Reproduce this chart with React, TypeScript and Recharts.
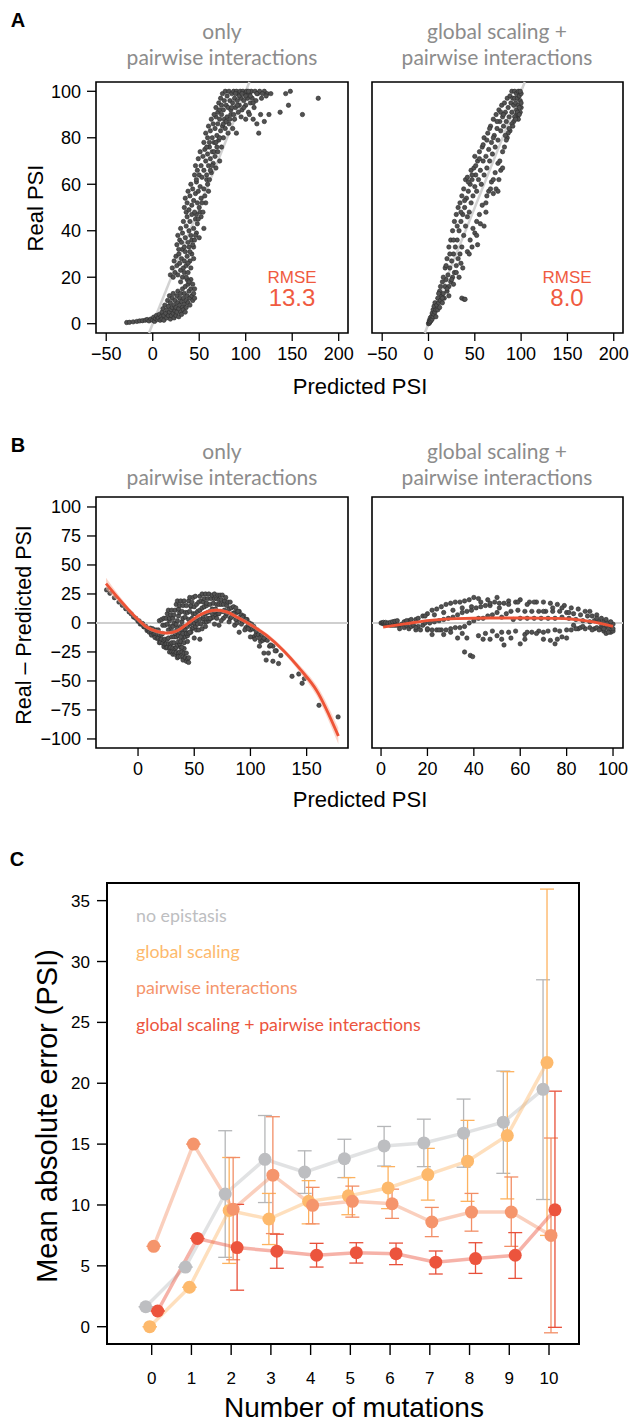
import React from 'react';
import { ComposedChart, Scatter, Line, Area, ErrorBar, XAxis, YAxis, ReferenceLine, ReferenceArea } from 'recharts';

// panels A/B: [predicted PSI, real PSI]
const onlyPairwisePoints: [number, number][] = [
  [-28, 0.5], [-25, 0.6], [-21, 0.8], [-17, 1], [-14, 1.2], [-11, 1.3], [-8, 1.5], [-6, 1.8], [-4, 1.2], [-2, 2], [0, 1.5], [1, 2.8],
  [2, 1], [3, 2.2], [4, 3.5], [5, 1.8], [6, 2.5], [7, 4], [8, 1.5], [9, 3], [10, 5], [10, 2], [11, 6.5], [12, 3.5], [12, 1.5], [13, 8],
  [14, 4.5], [15, 2.5], [15, 6], [16, 10], [17, 3.5], [17, 7.5], [18, 5], [18, 12], [19, 2], [19, 9], [20, 6], [20, 3.5], [21, 11], [21, 7],
  [22, 4.5], [22, 13], [23, 8], [23, 2.5], [24, 5.5], [24, 10], [25, 7], [25, 3.5], [26, 12], [26, 5], [27, 9], [27, 14], [28, 6.5], [28, 3],
  [29, 11], [29, 8], [30, 5], [30, 13], [31, 9.5], [31, 4], [32, 7], [32, 15], [33, 11], [33, 6], [34, 8.5], [34, 13], [35, 5], [35, 16],
  [36, 10], [36, 7], [37, 12], [38, 9], [38, 17], [39, 14], [40, 11], [40, 8], [41, 15], [41, 19], [42, 12], [43, 10], [43, 17], [44, 13],
  [45, 11], [45, 15], [37, 19], [39, 18], [30, 18], [32, 20], [34, 22], [36, 20],
  [19, 21], [21, 24], [22, 20], [23, 27], [24, 22], [25, 29], [26, 25], [27, 21], [28, 30], [29, 26], [30, 23], [31, 28], [32, 32], [33, 24],
  [34, 27], [35, 31], [36, 25], [37, 29], [38, 22], [39, 33], [40, 27], [41, 24], [42, 30], [44, 28], [38, 26], [40, 31], [42, 36], [44, 33],
  [26, 34], [27, 38], [28, 32], [29, 36], [30, 41], [31, 35], [32, 39], [33, 44], [34, 33], [35, 37], [36, 42], [37, 46], [38, 35], [39, 40],
  [40, 44], [41, 38], [42, 47], [43, 34], [44, 41], [45, 36], [46, 45], [47, 39], [48, 43], [50, 37], [52, 46], [55, 41], [46, 38], [47, 47],
  [49, 45], [51, 48],
  [34, 50], [35, 54], [36, 48], [37, 52], [38, 57], [39, 49], [40, 55], [41, 60], [42, 51], [43, 58], [44, 53], [45, 48], [46, 56], [47, 61],
  [48, 52], [49, 57], [50, 50], [51, 59], [52, 54], [54, 48], [55, 58], [57, 52], [59, 60], [60, 57], [53, 52], [56, 55], [58, 62], [61, 62],
  [45, 64], [46, 68], [47, 62], [48, 66], [49, 71], [50, 64], [51, 74], [52, 68], [53, 63], [54, 72], [55, 66], [56, 75], [57, 70], [58, 64],
  [59, 73], [60, 68], [61, 76], [62, 71], [63, 65], [64, 74], [65, 69], [67, 72], [69, 76], [68, 67], [72, 70], [62, 66], [64, 68], [66, 74],
  [55, 78], [57, 82], [58, 76], [59, 80], [60, 85], [61, 78], [62, 83], [63, 88], [64, 80], [65, 86], [66, 78], [67, 84], [68, 89], [69, 81],
  [70, 86], [71, 79], [72, 88], [73, 83], [74, 90], [75, 85], [76, 80], [77, 88], [78, 84], [80, 89], [81, 82], [82, 86], [84, 90], [86, 84],
  [88, 88], [90, 82], [68, 78], [70, 74], [72, 80], [74, 76], [76, 86], [79, 87], [83, 88],
  [66, 90], [68, 93], [70, 91], [71, 95], [72, 92], [73, 97], [74, 94], [75, 99], [76, 92], [77, 96], [78, 100], [79, 94], [80, 98], [81, 93],
  [82, 100], [83, 96], [84, 92], [85, 99], [86, 95], [87, 100], [88, 97], [89, 93], [90, 100], [91, 96], [92, 99], [93, 94], [94, 100],
  [95, 97], [96, 92], [97, 100], [98, 96], [99, 99], [100, 94], [101, 100], [102, 97], [103, 91], [104, 99], [105, 95], [106, 100], [107, 97],
  [109, 93], [110, 100], [111, 96], [113, 99], [115, 100], [117, 97], [120, 100], [123, 99], [127, 99], [100, 88], [104, 90], [108, 88],
  [112, 86], [116, 90], [120, 87], [95, 89], [92, 91], [114, 82], [125, 90], [85, 93], [87, 90], [89, 99], [91, 94], [93, 98], [96, 99],
  [98, 93], [100, 98], [103, 100], [105, 98], [108, 95], [112, 99], [118, 99], [122, 98],
  [137, 91], [143, 99], [146, 94], [148, 100], [161, 90], [178, 97],
];

const globalPairwisePoints: [number, number][] = [
  [0, 0], [0.5, 0.5], [1, 0.3], [1, 1.5], [1.5, 0.8], [2, 1], [2, 2.5], [3, 1.5], [3, 3], [4, 2], [4, 4.5], [5, 3], [5, 6], [6, 4], [6, 7.5],
  [7, 5], [7, 9], [8, 6], [8, 3], [9, 8], [10, 6], [10, 11], [11, 9], [12, 7], [12, 14], [13, 10], [14, 12], [15, 9], [15, 18], [16, 13],
  [17, 11], [18, 16], [18, 24], [19, 19], [20, 14], [20, 28], [21, 21], [22, 16], [22, 33], [23, 24], [24, 18], [24, 36], [25, 27], [26, 20],
  [26, 40], [27, 30], [28, 22], [28, 44], [29, 33], [30, 25], [30, 47], [31, 36], [32, 28], [32, 50], [33, 40], [34, 30], [34, 52], [35, 44],
  [36, 33], [36, 55], [37, 47], [38, 38], [38, 58], [39, 50], [40, 42], [40, 62], [41, 54], [42, 46], [42, 63], [43, 57], [44, 48], [45, 60],
  [46, 52], [46, 66], [47, 62], [48, 55], [49, 67], [50, 59], [50, 72], [51, 64], [52, 57], [53, 70], [54, 62], [55, 74], [56, 66], [57, 60],
  [58, 76], [59, 70], [60, 64], [60, 80], [62, 72], [63, 67], [64, 82], [65, 75], [66, 70], [67, 85], [68, 78], [69, 73], [70, 88], [71, 81],
  [72, 76], [73, 90], [74, 84], [75, 79], [76, 92], [77, 87], [78, 83], [79, 94], [80, 89], [81, 85], [82, 95], [83, 91], [84, 87], [85, 97],
  [86, 93], [87, 89], [88, 98], [89, 95], [90, 91], [90, 100], [91, 97], [92, 94], [93, 100], [93, 97], [94, 95], [95, 99], [95, 92], [96, 97],
  [97, 100], [97, 94], [98, 98], [99, 96], [100, 99], [99, 100], [96, 89], [92, 87], [97, 88], [99, 91], [100, 93], [98, 93], [95, 90],
  [88, 83], [85, 80],
  [30, 22], [25, 19], [35, 26], [42, 31], [45, 36], [48, 41], [50, 39], [52, 44], [55, 47], [58, 51], [62, 52], [65, 57], [68, 61], [72, 65],
  [75, 69], [80, 74], [84, 79], [20, 15], [15, 11],
  [22, 12], [27, 17], [33, 20], [37, 24], [44, 30], [47, 33], [52, 38], [56, 43], [63, 55], [67, 58], [70, 62], [77, 70], [82, 76], [86, 82],
  [90, 86], [93, 89], [96, 91], [98, 90], [100, 95], [94, 88], [91, 85], [87, 84], [83, 81], [11, 13], [13, 16], [16, 20], [19, 25], [23, 30],
  [27, 36], [31, 42], [35, 48], [39, 53], [43, 61], [47, 64], [51, 68], [55, 71], [59, 77], [63, 79], [66, 84], [70, 80], [74, 87], [78, 91],
  [81, 90], [62, 48], [70, 56], [76, 62],
  [36, 11], [38.5, 10.5], [39.5, 10.5], [53, 34], [60, 42], [73, 58], [75, 57], [78, 66], [80, 67],
];

// loess fits of the residuals in panel B
const onlyPairwiseFitX = [-28.5, -16, 0, 7.7, 16.6, 25.5, 34.4, 43.3, 52.2, 61, 70, 78.9, 87.8, 99.6, 114.4, 129.3, 144, 159, 178.2];
const onlyPairwiseFitY = [34, 19.7, 2.9, -3.5, -7.2, -8.7, -6.9, -1.2, 5.2, 9.5, 11, 9.5, 5.2, -1.2, -10.7, -23.7, -39.6, -58.4, -97.4];
const onlyPairwiseFitSe = [5, 3, 2, 1.8, 1.6, 1.5, 1.5, 1.5, 1.5, 1.5, 1.5, 1.5, 1.6, 1.8, 2, 2.2, 3, 4.5, 7];
const globalPairwiseFitX = [0.9, 10.9, 21, 32.5, 46.8, 61.2, 75.6, 82.8, 91.4, 100];
const globalPairwiseFitY = [-3.5, -0.6, 2.3, 3.8, 4.3, 4.3, 4, 3.2, 0.9, -2.9];

// panel C
const mutations = [0, 1, 2, 3, 4, 5, 6, 7, 8, 9, 10];
const noEpistasisMean = [1.64, 4.9, 10.9, 13.75, 12.7, 13.8, 14.85, 15.1, 15.9, 16.8, 19.5];
const noEpistasisLow = [1.64, 4.9, 5.7, 10.2, 10.95, 12.25, 13.2, 13.15, 13.1, 12.6, 10.45];
const noEpistasisHigh = [1.64, 4.9, 16.1, 17.35, 14.45, 15.4, 16.45, 17.05, 18.7, 21.0, 28.5];
const globalScalingMean = [0, 3.24, 9.55, 8.85, 10.3, 10.75, 11.4, 12.5, 13.6, 15.7, 21.7];
const globalScalingLow = [0, 3.24, 5.2, 6.75, 8.45, 9.2, 9.7, 10.4, 10.3, 10.5, 7.5];
const globalScalingHigh = [0, 3.24, 13.9, 10.95, 12.0, 12.25, 13.15, 14.65, 16.95, 20.95, 35.95];
const pairwiseMean = [6.6, 15.0, 9.65, 12.45, 9.97, 10.3, 10.1, 8.6, 9.42, 9.42, 7.5];
const pairwiseLow = [6.6, 15.0, 5.5, 7.65, 8.45, 9.0, 8.9, 7.4, 7.85, 6.6, -0.5];
const pairwiseHigh = [6.6, 15.0, 13.9, 17.25, 11.45, 11.55, 11.3, 9.8, 10.95, 12.3, 15.5];
const combinedMean = [1.29, 7.25, 6.5, 6.2, 5.87, 6.08, 6.0, 5.3, 5.6, 5.87, 9.6];
const combinedLow = [1.29, 7.25, 3.0, 4.8, 4.9, 5.23, 5.1, 4.33, 4.38, 3.97, -0.05];
const combinedHigh = [1.29, 7.25, 10.05, 7.6, 6.85, 6.9, 6.87, 6.22, 6.9, 7.73, 19.35];

const predTicksA = [-50, 0, 50, 100, 150, 200];
const realTicks = [0, 20, 40, 60, 80, 100];
const predTicksBLeft = [0, 50, 100, 150];
const predTicksBRight = [0, 20, 40, 60, 80, 100];
const residualTicks = [-100, -75, -50, -25, 0, 25, 50, 75, 100];
const maeTicks = [0, 5, 10, 15, 20, 25, 30, 35];

const SANS = '"Liberation Sans", Arial, Helvetica, sans-serif';
const GILL = 'Lato, "Open Sans", sans-serif';
const GREY_TITLE = '#8c8c8c';
const RMSE_RED = '#f05a40';

const fmt = (v: number) => (v < 0 ? `\u2212${Math.abs(v)}` : `${v}`);
const tickStyle = { fill: '#000', fontSize: 18, fontFamily: SANS };

const dot = (p: any) => (
  <circle cx={p.cx} cy={p.cy} r={2.2} fill="#525252" stroke="#2c2c2c" strokeWidth={0.6} />
);

type TextProps = {
  x: number; y: number; size: number; color?: string; weight?: number;
  family?: string; rotate?: boolean; align?: 'center' | 'left'; children: React.ReactNode;
};
const Txt = ({ x, y, size, color = '#000', weight = 400, family = SANS, rotate = false, align = 'center', children }: TextProps) => (
  <div
    style={{
      position: 'absolute', left: x, top: y, fontSize: size, color, fontWeight: weight, fontFamily: family,
      whiteSpace: 'nowrap', lineHeight: 1,
      transform: `translate(${align === 'center' ? '-50%' : '0'}, -50%)${rotate ? ' rotate(-90deg)' : ''}`,
    }}
  >
    {children}
  </div>
);

type ScatterPanelProps = {
  left: number; top: number; width: number; yAxisWidth: number;
  points: { x: number; y: number }[];
  xDomain: [number, number]; yDomain: [number, number];
  xTicks: number[]; yTicks: number[] | null;
  identity?: boolean; zeroLine?: boolean;
  fit?: { x: number; y: number }[]; band?: { x: number; band: [number, number] }[];
};

const ScatterPanel = ({ left, top, width, yAxisWidth, points, xDomain, yDomain, xTicks, yTicks, identity, zeroLine, fit, band }: ScatterPanelProps) => {
  const margin = { top: 22, right: 12, left: 0, bottom: 0 };
  return (
    <>
      <div style={{ position: 'absolute', left, top }}>
        <ComposedChart width={width} height={320} margin={margin}>
          <XAxis
            type="number" dataKey="x" domain={xDomain} ticks={xTicks} allowDataOverflow interval={0}
            axisLine={false} tickLine={{ stroke: '#000', strokeWidth: 1.3 }} tickSize={8} tickMargin={6}
            tick={tickStyle} tickFormatter={fmt} height={47}
          />
          <YAxis
            type="number" dataKey="y" domain={yDomain} ticks={yTicks ?? []} allowDataOverflow interval={0}
            axisLine={false} tickLine={yTicks ? { stroke: '#000', strokeWidth: 1.3 } : false} tickSize={9} tickMargin={6}
            tick={yTicks ? tickStyle : false} tickFormatter={fmt} width={yAxisWidth}
          />
          <ReferenceArea
            x1={xDomain[0]} x2={xDomain[1]} y1={yDomain[0]} y2={yDomain[1]}
            fill="none" stroke="#000" strokeWidth={1.6} ifOverflow="visible"
          />
          {identity && (
            <ReferenceLine segment={[{ x: yDomain[0], y: yDomain[0] }, { x: yDomain[1], y: yDomain[1] }]} stroke="#d2d2d2" strokeWidth={2.5} />
          )}
          {zeroLine && <ReferenceLine y={0} stroke="#cfcfcf" strokeWidth={2} />}
          <Scatter data={points} shape={dot} isAnimationActive={false} />
        </ComposedChart>
      </div>
      {fit && (
        // the fitted curve sits on its own layer so it stays above the points
        <div style={{ position: 'absolute', left, top, pointerEvents: 'none' }}>
          <ComposedChart width={width} height={320} margin={margin}>
            <XAxis type="number" dataKey="x" domain={xDomain} allowDataOverflow ticks={[]} tick={false} tickLine={false} axisLine={false} height={47} />
            <YAxis type="number" dataKey="y" domain={yDomain} allowDataOverflow ticks={[]} tick={false} tickLine={false} axisLine={false} width={yAxisWidth} />
            {band && (
              <Area data={band} dataKey="band" type="monotone" fill="#f7b4a0" fillOpacity={0.55} stroke="none" isAnimationActive={false} />
            )}
            <Line data={fit} dataKey="y" type="monotone" stroke="#ee5336" strokeWidth={2.8} dot={false} activeDot={false} isAnimationActive={false} />
          </ComposedChart>
        </div>
      )}
    </>
  );
};

const dodge = [-0.15, -0.05, 0.05, 0.15];
const buildSeries = (mean: number[], low: number[], high: number[], shift: number) =>
  mutations.map((m, i) => ({ x: m + shift, y: mean[i], err: [mean[i] - low[i], high[i] - mean[i]] }));

const maeSeries = [
  { name: 'no epistasis', color: '#bdbec1', bar: '#b5b6b8', data: buildSeries(noEpistasisMean, noEpistasisLow, noEpistasisHigh, dodge[0]) },
  { name: 'global scaling', color: '#fdb96c', bar: '#fdb25f', data: buildSeries(globalScalingMean, globalScalingLow, globalScalingHigh, dodge[1]) },
  { name: 'pairwise interactions', color: '#f5956c', bar: '#f28e66', data: buildSeries(pairwiseMean, pairwiseLow, pairwiseHigh, dodge[2]) },
  { name: 'global scaling + pairwise interactions', color: '#ec543d', bar: '#e8503a', data: buildSeries(combinedMean, combinedLow, combinedHigh, dodge[3]) },
];

const maeDot = (color: string) => (p: any) => <circle key={`${p.cx}-${p.cy}`} cx={p.cx} cy={p.cy} r={6.5} fill={color} stroke="none" />;

export default function App() {
  const aLeft = onlyPairwisePoints.map(([x, y]) => ({ x, y }));
  const aRight = globalPairwisePoints.map(([x, y]) => ({ x, y }));
  const bLeft = onlyPairwisePoints.map(([x, y]) => ({ x, y: y - x }));
  const bRight = globalPairwisePoints.map(([x, y]) => ({ x, y: y - x }));
  const fitLeft = onlyPairwiseFitX.map((x, i) => ({ x, y: onlyPairwiseFitY[i] }));
  const bandLeft = onlyPairwiseFitX.map((x, i) => ({
    x, band: [onlyPairwiseFitY[i] - onlyPairwiseFitSe[i], onlyPairwiseFitY[i] + onlyPairwiseFitSe[i]] as [number, number],
  }));
  const fitRight = globalPairwiseFitX.map((x, i) => ({ x, y: globalPairwiseFitY[i] }));

  return (
    <div style={{ position: 'absolute', left: 0, top: 0, width: 635, height: 1425, background: '#fff', fontFamily: SANS, overflow: 'hidden' }}>
      {/* panel A */}
      <Txt x={18} y={20} size={20} weight={700}>A</Txt>
      <Txt x={222} y={30} size={21} color={GREY_TITLE} family={GILL}>only</Txt>
      <Txt x={222} y={56} size={21} color={GREY_TITLE} family={GILL}>pairwise interactions</Txt>
      <Txt x={497} y={30} size={21} color={GREY_TITLE} family={GILL}>global scaling +</Txt>
      <Txt x={497} y={56} size={21} color={GREY_TITLE} family={GILL}>pairwise interactions</Txt>
      <ScatterPanel left={0} top={60} width={360} yAxisWidth={96} points={aLeft} xDomain={[-61, 210]} yDomain={[-4, 104]}
        xTicks={predTicksA} yTicks={realTicks} identity />
      <ScatterPanel left={360} top={60} width={275} yAxisWidth={12} points={aRight} xDomain={[-61, 210]} yDomain={[-4, 104]}
        xTicks={predTicksA} yTicks={null} identity />
      <Txt x={292} y={277} size={17} color={RMSE_RED}>RMSE</Txt>
      <Txt x={292} y={298} size={24} color={RMSE_RED}>13.3</Txt>
      <Txt x={567} y={277} size={17} color={RMSE_RED}>RMSE</Txt>
      <Txt x={567} y={298} size={24} color={RMSE_RED}>8.0</Txt>
      <Txt x={36} y={208} size={22} rotate>Real PSI</Txt>
      <Txt x={360} y={387} size={22}>Predicted PSI</Txt>

      {/* panel B */}
      <Txt x={18} y={445} size={20} weight={700}>B</Txt>
      <Txt x={222} y={450} size={21} color={GREY_TITLE} family={GILL}>only</Txt>
      <Txt x={222} y={476} size={21} color={GREY_TITLE} family={GILL}>pairwise interactions</Txt>
      <Txt x={497} y={450} size={21} color={GREY_TITLE} family={GILL}>global scaling +</Txt>
      <Txt x={497} y={476} size={21} color={GREY_TITLE} family={GILL}>pairwise interactions</Txt>
      <ScatterPanel left={0} top={475} width={360} yAxisWidth={96} points={bLeft} xDomain={[-37.4, 186.8]} yDomain={[-107.8, 108.6]}
        xTicks={predTicksBLeft} yTicks={residualTicks} zeroLine fit={fitLeft} band={bandLeft} />
      <ScatterPanel left={360} top={475} width={275} yAxisWidth={12} points={bRight} xDomain={[-3.9, 104.3]} yDomain={[-107.8, 108.6]}
        xTicks={predTicksBRight} yTicks={null} zeroLine fit={fitRight} />
      <Txt x={25} y={625} size={21.5} rotate>Real – Predicted PSI</Txt>
      <Txt x={360} y={800} size={22}>Predicted PSI</Txt>

      {/* panel C */}
      <Txt x={17} y={859} size={20} weight={700}>C</Txt>
      <div style={{ position: 'absolute', left: 0, top: 860 }}>
        <ComposedChart width={635} height={540} margin={{ top: 23, right: 56, left: 0, bottom: 0 }}>
          <XAxis
            type="number" dataKey="x" domain={[-1.125, 10.755]} ticks={mutations} allowDataOverflow interval={0}
            axisLine={false} tickLine={{ stroke: '#000', strokeWidth: 1.4 }} tickSize={11} tickMargin={17}
            tick={{ ...tickStyle, fontSize: 17 }} height={56}
          />
          <YAxis
            type="number" dataKey="y" domain={[-1.42, 36.45]} ticks={maeTicks} allowDataOverflow interval={0}
            axisLine={false} tickLine={{ stroke: '#000', strokeWidth: 1.4 }} tickSize={10} tickMargin={7}
            tick={{ ...tickStyle, fontSize: 17 }} width={107}
          />
          <ReferenceArea x1={-1.125} x2={10.755} y1={-1.42} y2={36.45} fill="none" stroke="#000" strokeWidth={2} ifOverflow="visible" />
          {maeSeries.map((s) => (
            <Line
              key={s.name} data={s.data} dataKey="y" type="linear" stroke={s.color} strokeOpacity={0.45} strokeWidth={3.5}
              dot={maeDot(s.color)} activeDot={false} isAnimationActive={false}
            >
              <ErrorBar dataKey="err" width={7} stroke={s.bar} strokeWidth={1.3} direction="y" />
            </Line>
          ))}
        </ComposedChart>
      </div>
      {maeSeries.map((s, i) => (
        <Txt key={s.name} x={136} y={916 + i * 36.2} size={17.8} color={s.color} family={GILL} align="left">{s.name}</Txt>
      ))}
      <Txt x={47} y={1116} size={29} rotate>Mean absolute error (PSI)</Txt>
      <Txt x={354} y={1408} size={28}>Number of mutations</Txt>
    </div>
  );
}
